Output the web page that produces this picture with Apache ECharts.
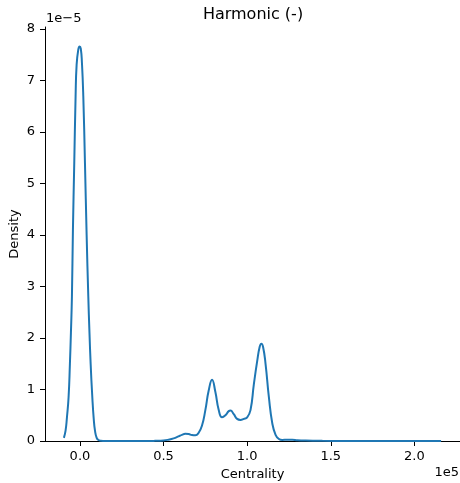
<!DOCTYPE html>
<html>
<head>
<meta charset="utf-8">
<script src="https://cdn.jsdelivr.net/npm/echarts@6/dist/echarts.min.js"></script>
<style>
html,body{margin:0;padding:0;background:#fff;}
#chart{width:460px;height:483px;}
</style>
</head>
<body>
<div id="chart"></div>
<script>
// Centrality in units of 1e5, density in units of 1e-5
const centrality = [-0.096,-0.086,-0.078,-0.068,-0.060,-0.054,-0.048,-0.042,-0.034,-0.026,-0.020,-0.010,-0.002,0.005,0.012,0.020,0.030,0.040,0.050,0.057,0.064,0.074,0.082,0.090,0.100,0.110,0.125,0.15,0.2,0.3,0.4,0.45,0.5,0.53,0.56,0.59,0.61,0.63,0.65,0.67,0.69,0.71,0.73,0.75,0.77,0.79,0.81,0.83,0.85,0.87,0.89,0.90,0.92,0.94,0.96,0.98,1.00,1.02,1.04,1.06,1.075,1.085,1.095,1.11,1.13,1.15,1.17,1.19,1.21,1.24,1.27,1.30,1.35,1.45,1.6,1.8,2.0,2.16];
const density = [0.06,0.2,0.45,0.85,1.5,2.1,2.8,4.1,5.4,6.7,7.3,7.6,7.66,7.62,7.34,6.7,5.4,4.0,2.8,2.1,1.5,0.85,0.45,0.2,0.06,0.02,0.005,0.0,0.0,0.0,0.0,0.003,0.01,0.025,0.05,0.09,0.12,0.14,0.135,0.115,0.11,0.16,0.3,0.6,0.98,1.19,0.95,0.6,0.46,0.5,0.58,0.59,0.52,0.43,0.41,0.43,0.46,0.6,1.1,1.55,1.83,1.89,1.83,1.5,0.85,0.35,0.12,0.04,0.02,0.025,0.025,0.015,0.008,0.003,0.001,0.0,0.0,0.0];
const xTicks = [0, 0.5, 1.0, 1.5, 2.0];
const xTickLabels = ['0.0', '0.5', '1.0', '1.5', '2.0'];
const yTicks = [0, 1, 2, 3, 4, 5, 6, 7, 8];

const FONT = 'DejaVu Sans';
const chart = echarts.init(document.getElementById('chart'), null, {renderer: 'canvas'});
const pts = centrality.map((x, i) => [x, density[i]]);

chart.setOption({
  animation: false,
  backgroundColor: '#fff',
  grid: {left: 45, right: 0, top: 27, bottom: 42, containLabel: false, outerBoundsMode: 'none'},
  xAxis: {
    type: 'value', min: -0.209, max: 2.273,
    name: 'Centrality', nameLocation: 'middle', nameGap: 25,
    nameTextStyle: {fontFamily: FONT, fontSize: 13, color: '#000'},
    axisLine: {show: true, onZero: false, lineStyle: {color: '#000', width: 1}},
    axisTick: {show: true, length: 5, lineStyle: {color: '#000', width: 1}, customValues: xTicks},
    axisLabel: {fontFamily: FONT, fontSize: 13, color: '#000', margin: 9, customValues: xTicks,
      formatter: v => xTickLabels[xTicks.indexOf(Math.round(Number(v) * 10) / 10)] || ''},
    splitLine: {show: false}
  },
  yAxis: {
    type: 'value', min: 0, max: 8.04,
    name: '',
    axisLine: {show: true, onZero: false, lineStyle: {color: '#000', width: 1}},
    axisTick: {show: true, length: 5, lineStyle: {color: '#000', width: 1}, customValues: yTicks},
    axisLabel: {fontFamily: FONT, fontSize: 13, color: '#000', margin: 10, customValues: yTicks,
      formatter: v => String(Math.round(v))},
    splitLine: {show: false}
  },
  series: [{
    type: 'line', data: pts, showSymbol: false, smooth: 0.5,
    lineStyle: {color: '#1f77b4', width: 2}, itemStyle: {color: '#1f77b4'}
  }],
  graphic: [
    {type: 'text', style: {text: 'Harmonic (-)', x: 253, y: 15, fontFamily: FONT, fontSize: 16, fill: '#000', textAlign: 'center', textVerticalAlign: 'middle'}},
    {type: 'text', style: {text: '1e\u22125', x: 46, y: 19, fontFamily: FONT, fontSize: 13, fill: '#000', textAlign: 'left', textVerticalAlign: 'middle'}},
    {type: 'text', style: {text: '1e5', x: 459, y: 473, fontFamily: FONT, fontSize: 13, fill: '#000', textAlign: 'right', textVerticalAlign: 'middle'}},
    {type: 'text', rotation: Math.PI / 2, x: 15, y: 234, style: {text: 'Density', fontFamily: FONT, fontSize: 13, fill: '#000', textAlign: 'center', textVerticalAlign: 'middle'}}
  ]
});
</script>
</body>
</html>
